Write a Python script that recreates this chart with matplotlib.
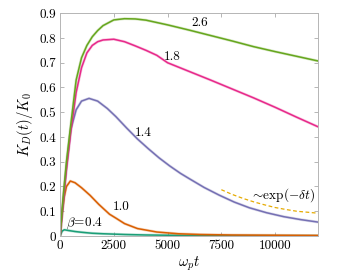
import matplotlib
matplotlib.use("Agg")
import matplotlib.pyplot as plt

plt.rcParams['font.family'] = ['cmr10', 'DejaVu Serif']
plt.rcParams['mathtext.fontset'] = 'cm'
plt.rcParams['axes.unicode_minus'] = False

# ---- data ----
t_26 = [0, 150, 300, 500, 750, 1000, 1250, 1500, 1750, 2000, 2500, 3000, 3500, 4000, 5000, 6000, 7000, 8000, 9000, 10000, 11000, 12000]
k_26 = [0, 0.16, 0.30, 0.45, 0.63, 0.72, 0.77, 0.805, 0.83, 0.85, 0.873, 0.878, 0.877, 0.872, 0.853, 0.832, 0.81, 0.788, 0.765, 0.745, 0.726, 0.707]

t_18 = [0, 150, 300, 500, 750, 1000, 1250, 1500, 1750, 2000, 2500, 3000, 3500, 4000, 4500, 5000, 6000, 7000, 8000, 9000, 10000, 11000, 12000]
k_18 = [0, 0.14, 0.27, 0.42, 0.58, 0.68, 0.74, 0.77, 0.785, 0.792, 0.795, 0.785, 0.768, 0.75, 0.73, 0.70, 0.665, 0.63, 0.594, 0.558, 0.52, 0.48, 0.441]

t_14 = [0, 150, 300, 500, 750, 1000, 1350, 1750, 2200, 2600, 3100, 3600, 4100, 4600, 5100, 5600, 6000, 6700, 7400, 8100, 8800, 9600, 10400, 11200, 12000]
k_14 = [0, 0.14, 0.28, 0.43, 0.51, 0.545, 0.556, 0.545, 0.515, 0.482, 0.436, 0.392, 0.353, 0.316, 0.283, 0.253, 0.232, 0.196, 0.165, 0.137, 0.114, 0.094, 0.078, 0.066, 0.056]

t_10 = [0, 100, 200, 300, 480, 700, 1000, 1400, 1800, 2300, 2600, 3000, 3600, 4500, 5500, 6500, 8000, 10000, 12000]
k_10 = [0, 0.09, 0.16, 0.2, 0.222, 0.215, 0.195, 0.164, 0.128, 0.088, 0.072, 0.05, 0.03, 0.016, 0.009, 0.006, 0.004, 0.003, 0.002]

t_04 = [0, 100, 200, 400, 700, 1000, 1500, 2000, 3000, 4000, 6000, 8000, 10000, 12000]
k_04 = [0, 0.02, 0.025, 0.022, 0.018, 0.015, 0.011, 0.009, 0.006, 0.004, 0.002, 0.001, 0.001, 0.001]

t_exp = [7500, 8000, 8500, 9000, 9500, 10000, 10500, 11000, 11500, 12000]
k_exp = [0.187, 0.168, 0.152, 0.138, 0.126, 0.115, 0.107, 0.1, 0.096, 0.092]

xticks = [0, 2500, 5000, 7500, 10000]
xtick_labels = ['0', '2500', '5000', '7500', '10000']
yticks = [0, 0.1, 0.2, 0.3, 0.4, 0.5, 0.6, 0.7, 0.8, 0.9]
ytick_labels = ['0', '0.1', '0.2', '0.3', '0.4', '0.5', '0.6', '0.7', '0.8', '0.9']

c_teal = '#1b9e77'
c_orange = '#d95f02'
c_purple = '#7570b3'
c_pink = '#e7298a'
c_green = '#66a61e'
c_yellow = '#e6ab02'

fig = plt.figure(figsize=(3.41, 2.76), dpi=100)
ax = fig.add_axes([0.176, 0.145, 0.757, 0.807])

series = [(t_04, k_04, c_teal), (t_10, k_10, c_orange), (t_14, k_14, c_purple),
          (t_18, k_18, c_pink), (t_26, k_26, c_green)]
for t, k, c in series:
    ax.plot(t, k, color=c, lw=2.0, alpha=0.25, solid_capstyle='butt')
    ax.plot(t, k, color=c, lw=1.1)

ax.plot(t_exp, k_exp, color=c_yellow, lw=0.9, ls=(0, (3, 2)))

ax.set_xlim(0, 12000)
ax.set_ylim(0, 0.9)
ax.set_xticks(xticks)
ax.set_xticklabels(xtick_labels)
ax.set_yticks(yticks)
ax.set_yticklabels(ytick_labels)
ax.tick_params(direction='in', top=True, right=True, length=3, width=0.6,
               color='#aaaaaa', labelsize=9.5, pad=3)
for s in ax.spines.values():
    s.set_color('#b5b5b5')
    s.set_linewidth(0.7)

ax.set_xlabel(r'$\omega_p t$', fontsize=10.5, labelpad=2)
ax.set_ylabel(r'$K_D(t)/K_0$', fontsize=10.5, labelpad=3)

fs = 9.5
ax.text(6500, 0.862, '2.6', fontsize=fs, ha='center', va='center')
ax.text(5200, 0.725, '1.8', fontsize=fs, ha='center', va='center')
ax.text(3850, 0.415, '1.4', fontsize=fs, ha='center', va='center')
ax.text(2850, 0.117, '1.0', fontsize=fs, ha='center', va='center')
ax.text(1150, 0.053, r'$\beta\!=\!0.4$', fontsize=fs, ha='center', va='center')
ax.text(10350, 0.165, r'$\sim\!\exp(-\delta t)$', fontsize=fs, ha='center', va='center')

fig.savefig('out.png', dpi=100)
